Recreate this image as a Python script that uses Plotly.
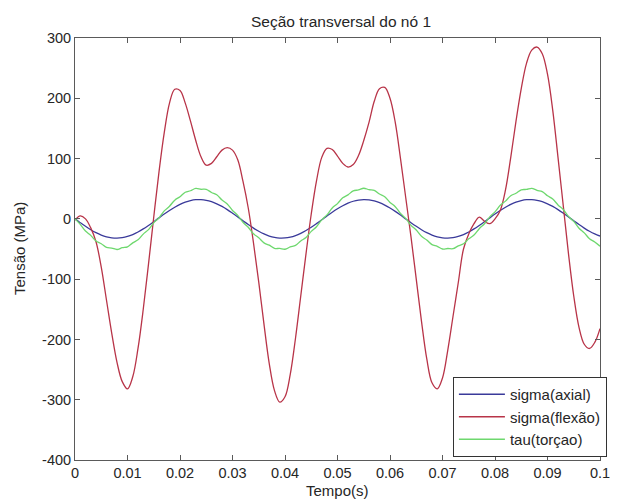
import plotly.graph_objects as go

# Time axis: 0 to 0.1 s in 1 ms steps
tempo = [i / 1000 for i in range(101)]

# Axial normal stress (MPa)
sigma_axial = [
    0, -6.3, -12.4, -18.0, -22.9, -26.9, -29.8, -31.5, -32.0, -31.2,
    -29.2, -26.0, -21.8, -16.7, -10.9, -4.8, 1.6, 7.9, 13.9, 19.3,
    24.0, 27.7, 30.3, 31.8, 31.9, 30.8, 28.5, 25.0, 20.6, 15.3,
    9.4, 3.2, -3.2, -9.5, -15.3, -20.6, -25.0, -28.5, -30.8, -31.9,
    -31.7, -30.3, -27.7, -24.0, -19.3, -13.9, -7.9, -1.6, 4.8, 11.0,
    16.7, 21.8, 26.0, 29.2, 31.2, 32.0, 31.5, 29.8, 26.9, 22.9,
    18.0, 12.4, 6.3, -0.1, -6.4, -12.4, -18.0, -22.9, -26.9, -29.8,
    -31.5, -32.0, -31.2, -29.2, -26.0, -21.8, -16.7, -10.9, -4.8, 1.6,
    7.9, 13.9, 19.3, 24.0, 27.7, 30.3, 31.8, 31.9, 30.8, 28.5,
    25.0, 20.6, 15.3, 9.4, 3.2, -3.2, -9.5, -15.3, -20.6, -25.0,
    -28.5,
]

# Bending normal stress (MPa)
sigma_flexao = [
    -2, 5, 0, -15, -38, -80, -135, -190, -238, -270,
    -282, -262, -215, -150, -75, 3, 78, 143, 192, 215,
    213, 192, 162, 130, 103, 89, 92, 103, 114, 118,
    114, 98, 62, 18, -40, -105, -175, -240, -285, -304,
    -295, -258, -198, -128, -58, 8, 63, 102, 117, 115,
    104, 92, 86, 90, 105, 130, 160, 195, 216, 218,
    200, 160, 100, 35, -30, -100, -170, -232, -272, -282,
    -264, -218, -162, -106, -50, -25, -8, 3, -4, -8,
    0, 14, 48, 102, 162, 216, 258, 280, 285, 274,
    240, 180, 102, 22, -58, -128, -180, -208, -215, -205,
    -182,
]

# Torsional shear stress (MPa), with its small ripple
tau_torcao = [
    0, -9.1, -20.2, -27.4, -36.6, -41.2, -47.3, -48.4, -50.8, -47.9,
    -46.4, -39.8, -34.8, -25.3, -17.9, -6.6, 1.7, 13.2, 20.9, 31.0,
    36.7, 44.1, 46.6, 50.4, 49.1, 48.9, 43.7, 39.9, 31.3, 24.7,
    13.9, 5.7, -5.8, -14.0, -24.8, -31.4, -39.9, -43.7, -48.9, -49.1,
    -50.4, -46.6, -44.1, -36.7, -31.0, -20.8, -13.1, -1.6, 6.7, 18.0,
    25.3, 34.9, 39.8, 46.4, 48.0, 50.8, 48.4, 47.3, 41.2, 36.6,
    27.3, 20.2, 9.0, 0.7, -10.8, -18.6, -29.0, -35.0, -42.8, -45.7,
    -50.0, -49.2, -49.5, -44.8, -41.4, -33.2, -26.9, -16.3, -8.2, 3.3,
    11.6, 22.5, 29.4, 38.3, 42.5, 48.2, 48.8, 50.7, 47.3, 45.3,
    38.3, 32.9, 23.1, 15.5, 4.1, -4.2, -15.6, -23.2, -33.0, -38.3,
    -45.3,
]

x_ticks = [0, 0.01, 0.02, 0.03, 0.04, 0.05, 0.06, 0.07, 0.08, 0.09, 0.1]
x_tick_text = ["0", "0.01", "0.02", "0.03", "0.04", "0.05", "0.06", "0.07", "0.08", "0.09", "0.1"]
y_ticks = [-400, -300, -200, -100, 0, 100, 200, 300]
y_tick_text = ["-400", "-300", "-200", "-100", "0", "100", "200", "300"]

FONT = "Liberation Sans, Arial, sans-serif"
TEXT = "#262626"
AXIS = "#5a5a5a"

fig = go.Figure()
fig.add_trace(go.Scatter(x=tempo, y=sigma_axial, mode="lines", name="sigma(axial)",
                         line=dict(color="#3a3a9a", width=1.3, shape="spline")))
fig.add_trace(go.Scatter(x=tempo, y=sigma_flexao, mode="lines", name="sigma(flexão)",
                         line=dict(color="#b83448", width=1.3, shape="spline")))
fig.add_trace(go.Scatter(x=tempo, y=tau_torcao, mode="lines", name="tau(torçao)",
                         line=dict(color="#6ed86e", width=1.3, shape="spline")))

axis_common = dict(
    showgrid=False, zeroline=False, showline=True, linecolor=AXIS, linewidth=1,
    mirror="allticks", ticks="inside", ticklen=5, tickcolor=AXIS, tickwidth=1,
    tickfont=dict(family=FONT, size=14.5, color=TEXT), automargin=False,
)

fig.update_layout(
    width=619, height=501,
    margin=dict(l=75, r=12, t=38, b=41),
    paper_bgcolor="white", plot_bgcolor="white",
    font=dict(family=FONT, size=14, color=TEXT),
    title=dict(text="Seção transversal do nó 1", x=(75 + 607) / 2 / 619, xanchor="center",
               y=1 - 22 / 501, yanchor="middle", font=dict(family=FONT, size=15.5, color=TEXT)),
    xaxis=dict(range=[0, 0.1], tickvals=x_ticks, ticktext=x_tick_text, **axis_common),
    yaxis=dict(range=[-400, 300], tickvals=y_ticks, ticktext=y_tick_text, **axis_common),
    legend=dict(x=(614 - 75) / 532, xanchor="right", y=(460 - 457) / 422, yanchor="bottom",
                bgcolor="white", bordercolor="#333333", borderwidth=1,
                font=dict(family=FONT, size=15, color=TEXT), tracegroupgap=0,
                itemwidth=46),
    showlegend=True,
    annotations=[
        dict(text="Tempo(s)", xref="paper", yref="paper", x=0.5, y=0,
             xanchor="center", yanchor="middle", yshift=-30, showarrow=False,
             font=dict(family=FONT, size=15, color=TEXT)),
        dict(text="Tensão (MPa)", xref="paper", yref="paper", x=0, y=0.5,
             xanchor="center", yanchor="middle", xshift=-56, textangle=-90,
             showarrow=False, font=dict(family=FONT, size=15, color=TEXT)),
    ],
)

fig.write_html("out.html")
